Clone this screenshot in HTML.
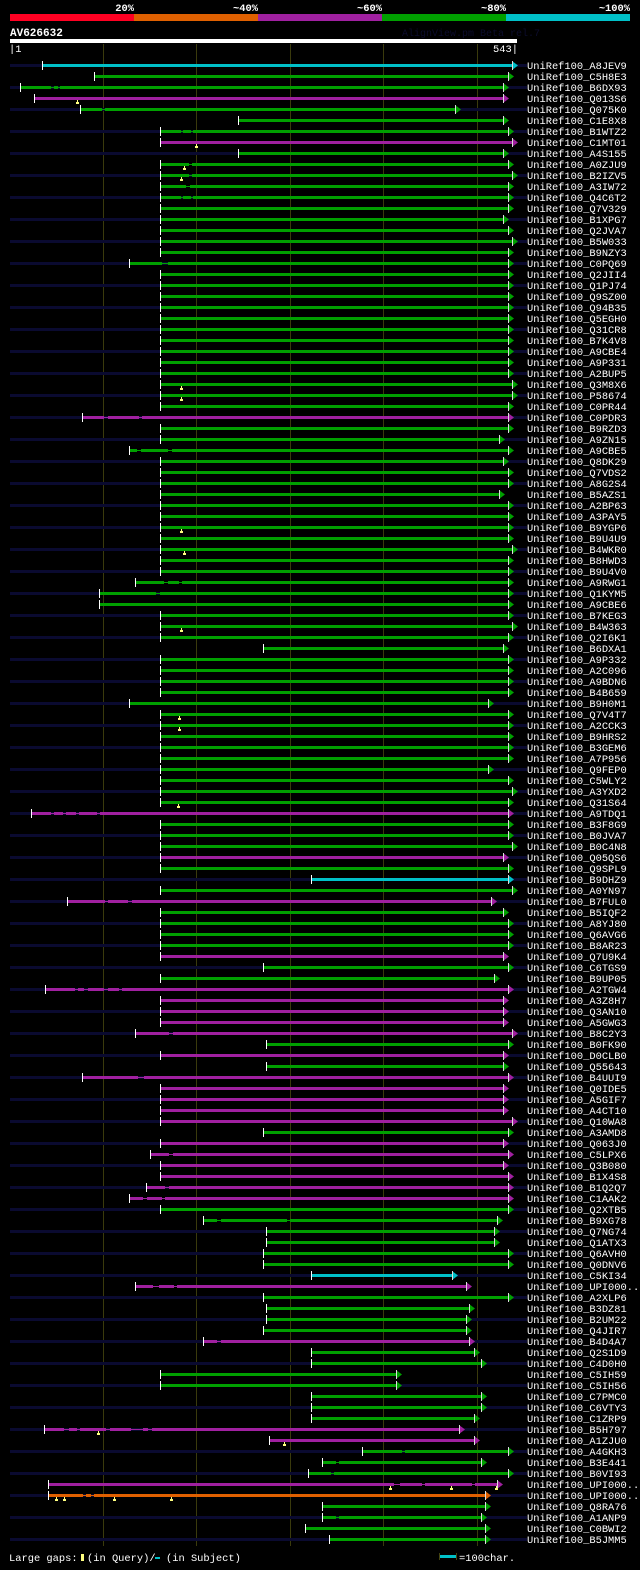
<!DOCTYPE html>
<html><head><meta charset="utf-8">
<style>
html,body{margin:0;padding:0;background:#000;}
body{width:640px;height:1565px;overflow:hidden;}
svg text{font-family:"Liberation Mono","DejaVu Sans Mono",monospace;}
</style></head>
<body>
<svg id="chart" xmlns="http://www.w3.org/2000/svg" width="640" height="1565" viewBox="0 0 640 1565" shape-rendering="crispEdges">
  <g>
    <rect x="10" y="14" width="124" height="7" fill="#ff0022"/>
    <rect x="134" y="14" width="124" height="7" fill="#e06000"/>
    <rect x="258" y="14" width="124" height="7" fill="#a020a0"/>
    <rect x="382" y="14" width="124" height="7" fill="#00a000"/>
    <rect x="506" y="14" width="124" height="7" fill="#00c0c8"/>
    <g font-size="10.4" font-weight="bold" fill="#fff" text-anchor="end">
      <text x="134" y="11">20%</text>
      <text x="258" y="11">~40%</text>
      <text x="382" y="11">~60%</text>
      <text x="506" y="11">~80%</text>
      <text x="630" y="11">~100%</text>
    </g>
  </g>
  <text x="10" y="36" font-size="11" font-weight="bold" fill="#fff">AV626632</text>
  <text x="402" y="36" font-size="10" fill="#0c0c2c">AlignView.pm Beta rel.7</text>
  <rect x="10" y="39" width="507" height="4" fill="#fff"/>
  <text x="9" y="52" font-size="10.4" fill="#fff">|1</text>
  <text x="518" y="52" font-size="10.4" fill="#fff" text-anchor="end">543|</text>
  <g id="grid"></g>
  <g id="rows"></g>
  <g font-size="10.4" fill="#fff">
    <text x="9" y="1561">Large gaps:</text>
    <rect x="81" y="1554" width="3" height="7" fill="#ffff80"/>
    <text x="87" y="1561">(in Query)/</text>
    <rect x="155" y="1557" width="5" height="2" fill="#00c0c8"/>
    <text x="166" y="1561">(in Subject)</text>
    <rect x="439" y="1555" width="17" height="3" fill="#00c0c8"/>
    <rect x="439" y="1553" width="1" height="7" fill="#444410"/>
    <rect x="456" y="1553" width="1" height="7" fill="#444410"/>
    <text x="459" y="1561">=100char.</text>
  </g>
</svg>
<script>
var gridTicks = [100, 200, 300, 400, 500];
var names = ["A8JEV9","C5H8E3","B6DX93","Q013S6","Q075K0","C1E8X8","B1WTZ2","C1MT01","A4S155","A0ZJU9","B2IZV5","A3IW72","Q4C6T2","Q7V329","B1XPG7","Q2JVA7","B5W033","B9NZY3","C0PQ69","Q2JII4","Q1PJ74","Q9SZ00","Q94B35","Q5EGH0","Q31CR8","B7K4V8","A9CBE4","A9P331","A2BUP5","Q3M8X6","P58674","C0PR44","C0PDR3","B9RZD3","A9ZN15","A9CBE5","Q8DK29","Q7VDS2","A8G2S4","B5AZS1","A2BP63","A3PAY5","B9YGP6","B9U4U9","B4WKR0","B8HWD3","B9U4V0","A9RWG1","Q1KYM5","A9CBE6","B7KEG3","B4W363","Q2I6K1","B6DXA1","A9P332","A2C096","A9BDN6","B4B659","B9H0M1","Q7V4T7","A2CCK3","B9HRS2","B3GEM6","A7P956","Q9FEP0","C5WLY2","A3YXD2","Q31S64","A9TDQ1","B3F8G9","B0JVA7","B0C4N8","Q05QS6","Q9SPL9","B9DHZ9","A0YN97","B7FUL0","B5IQF2","A8YJ80","Q6AVG6","B8AR23","Q7U9K4","C6TGS9","B9UP05","A2TGW4","A3Z8H7","Q3AN10","A5GWG3","B8C2Y3","B0FK90","D0CLB0","Q55643","B4UUI9","Q0IDE5","A5GIF7","A4CT10","Q10WA8","A3AMD8","Q063J0","C5LPX6","Q3B080","B1X4S8","B1Q2Q7","C1AAK2","Q2XTB5","B9XG78","Q7NG74","Q1ATX3","Q6AVH0","Q0DNV6","C5KI34","UPI000..","A2XLP6","B3DZ81","B2UM22","Q4JIR7","B4D4A7","Q2S1D9","C4D0H0","C5IH59","C5IH56","C7PMC0","C6VTY3","C1ZRP9","B5H797","A1ZJU0","A4GKH3","B3E441","B0VI93","UPI000..","UPI000..","Q8RA76","A1ANP9","C0BWI2","B5JMM5"];
var starts = [35,91,12,27,76,245,161,161,245,161,161,161,161,161,161,161,161,161,128,161,161,161,161,161,161,161,161,161,161,161,161,161,78,161,161,128,161,161,161,161,161,161,161,161,161,161,161,135,96,96,161,161,161,271,161,161,161,161,128,161,161,161,161,161,161,161,161,161,23,161,161,161,161,161,323,161,62,161,161,161,161,161,271,161,38,161,161,161,135,275,161,275,78,161,161,161,161,271,161,151,161,161,146,128,161,207,275,275,271,271,323,135,271,275,275,271,207,323,323,161,161,323,323,323,37,278,377,335,320,42,42,335,335,316,342];
var ends = [543,539,533,533,482,533,539,543,533,539,543,539,539,539,533,539,543,539,539,539,539,539,539,539,539,539,539,539,539,543,543,539,539,539,529,539,533,539,539,529,539,539,539,539,543,539,539,539,539,539,539,543,539,533,539,539,539,539,517,539,539,539,539,539,517,539,543,539,539,539,539,543,533,539,539,543,521,533,539,539,539,533,539,524,539,533,533,533,543,539,533,533,539,533,533,533,543,539,533,539,533,539,539,539,539,527,524,524,539,539,479,494,539,497,494,494,497,502,510,419,419,510,510,502,486,502,539,510,539,527,514,514,510,514,514];
// 0 = ~40% (orange), 1 = ~60% (purple), 2 = ~80% (green), 3 = ~100% (cyan)
var identityClass = [3,2,2,1,2,2,2,1,2,2,2,2,2,2,2,2,2,2,2,2,2,2,2,2,2,2,2,2,2,2,2,2,1,2,2,2,2,2,2,2,2,2,2,2,2,2,2,2,2,2,2,2,2,2,2,2,2,2,2,2,2,2,2,2,2,2,2,2,1,2,2,2,1,2,3,2,1,2,2,2,2,1,2,2,1,1,1,1,1,2,1,2,1,1,1,1,1,2,1,1,1,1,1,1,2,2,2,2,2,2,3,1,2,2,2,2,1,2,2,2,2,2,2,2,1,1,2,2,2,1,0,2,2,2,2];
var queryGaps = {3:[73],7:[200],9:[187],10:[184],29:[184],30:[184],42:[184],44:[187],51:[184],59:[182],60:[182],67:[181],124:[95],125:[294],129:[407,472,521],130:[50,59,112,173]};
var subjectGaps = {2:[[45,48],[52,54]],4:[[99,103]],6:[[184,186],[194,197]],9:[[192,196]],10:[[192,196]],11:[[189,193]],12:[[184,186],[194,197]],18:[[164,170]],32:[[102,106],[139,142]],35:[[137,141],[170,174]],47:[[166,170],[182,185]],48:[[157,161]],68:[[45,48],[58,61],[72,75],[94,97]],76:[[103,106],[127,131]],84:[[71,74],[80,84],[102,106],[117,121]],88:[[171,175]],92:[[138,144]],99:[[171,175]],102:[[167,171]],103:[[143,147],[163,167]],105:[[222,227],[297,300]],111:[[154,160],[176,180]],116:[[222,227]],124:[[59,64],[73,76],[104,108],[130,143],[149,153]],126:[[420,423]],127:[[350,353]],128:[[344,347]],129:[[412,418],[441,445],[495,498]],130:[[79,82],[88,91]],132:[[350,353]]};

var colors = ["#e06000", "#a020a0", "#00a000", "#00c0c8"];
var NS = "http://www.w3.org/2000/svg";
function xScale(p) { return Math.round(10 + (p - 1) * 507 / 542); }
function yRow(i) { return 65 + i * 11; }
function mk(tag, attrs, parent) {
  var e = document.createElementNS(NS, tag);
  for (var k in attrs) e.setAttribute(k, attrs[k]);
  parent.appendChild(e);
  return e;
}
var grid = document.getElementById("grid");
gridTicks.forEach(function (t) {
  var gx = xScale(t);
  var l = mk("rect", {x: gx, y: 44, width: 1, height: 1502, fill: "#3a3a0c"}, grid);
  
  
});
var rowsG = document.getElementById("rows");
names.forEach(function (nm, i) {
  var y = yRow(i);
  var g = mk("g", {}, rowsG);
  
  
  if (i % 2 === 0) {
    var bd = mk("rect", {x: 10, y: y - 1, width: 517, height: 3, fill: "#0a0a30"}, g);
    
    
  }
  var x1 = xScale(starts[i]), x2 = xScale(ends[i]);
  var col = colors[identityClass[i]];
  var segs = [];
  var gaps = subjectGaps[i] || [];
  var cur = x1;
  gaps.forEach(function (gp) {
    var a = xScale(gp[0]), b = xScale(gp[1]);
    segs.push([cur, a]);
    var thin = mk("rect", {x: a, y: y, width: Math.max(1, b - a), height: 1, fill: col}, g);
    
    
    cur = b;
  });
  segs.push([cur, x2 - 5]);
  segs.forEach(function (s) {
    var r = mk("rect", {x: s[0], y: y - 1, width: Math.max(0, s[1] - s[0]), height: 3, fill: col}, g);
    
    
  });
  var ar = mk("polygon", {points: (x2 - 5) + "," + (y - 4) + " " + (x2 + 1) + "," + (y + 0.5) + " " + (x2 - 5) + "," + (y + 5), fill: col, "shape-rendering": "auto"}, g);
  
  
  var ae = mk("rect", {x: x2 - 5, y: y - 4, width: 1, height: 9, fill: "#dddddd"}, g);
  
  
  var st = mk("rect", {x: x1, y: y - 4, width: 1, height: 9, fill: "#ffffff"}, g);
  
  
  (queryGaps[i] || []).forEach(function (q) {
    var qx = xScale(q);
    var m1 = mk("rect", {x: qx, y: y + 2, width: 1, height: 2, fill: "#ffff80"}, g);
    
    
    var m2 = mk("rect", {x: qx - 1, y: y + 4, width: 3, height: 2, fill: "#ffff80"}, g);
    
    
  });
  var t = mk("text", {x: 527, y: y + 4, "font-size": "10.4", fill: "#ffffff"}, g);
  
  
  t.textContent = "UniRef100_" + nm;
});
</script>
</body></html>
